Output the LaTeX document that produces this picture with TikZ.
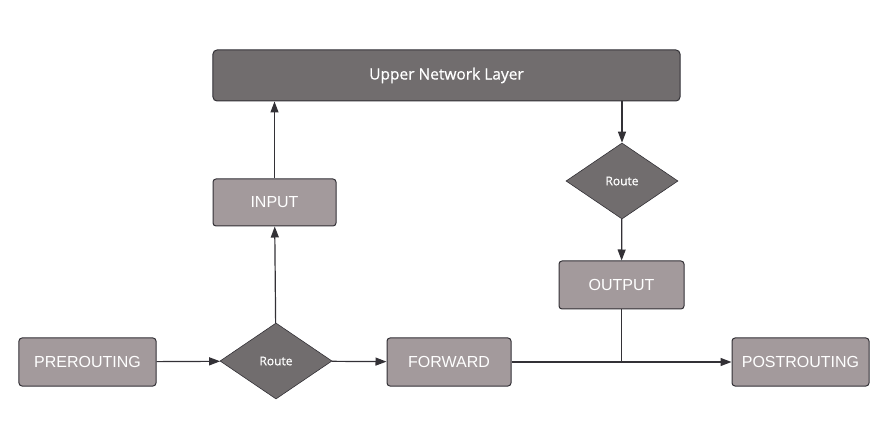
\documentclass[tikz,border=0pt]{standalone}
\usepackage{fontspec}
\setmainfont{Liberation Sans}
\newfontfamily\labelfont[FakeBold=0.7]{Open Sans}
\usetikzlibrary{shapes.geometric,arrows.meta}
\definecolor{darkfill}{HTML}{716D6E}
\definecolor{chainfill}{HTML}{A39A9C}
\definecolor{edgeline}{HTML}{333136}
\begin{document}
\begin{tikzpicture}
	[
	x=1bp, y=-1bp,
	chain/.style={rectangle, rounded corners=3bp, fill=chainfill, draw=edgeline, line width=1bp, text=white, inner sep=0pt, font=\fontsize{16bp}{18bp}\selectfont},
	layer/.style={rectangle, rounded corners=4bp, fill=darkfill, draw=edgeline, line width=1bp, text=white, inner sep=0pt, minimum width=467bp, minimum height=51bp, font=\labelfont\fontsize{15.5bp}{17bp}\selectfont},
	route/.style={diamond, fill=darkfill, draw=edgeline, line width=0.6bp, text=white, inner sep=0pt, minimum width=112bp, minimum height=76bp, font=\labelfont\fontsize{12bp}{14bp}\selectfont},
	flow/.style={-{Triangle[length=11bp,width=8bp]}, draw=edgeline, line width=1.2bp}
	]
		\useasboundingbox (0, 0) rectangle (895, 441);
		
		% top
		\node (upper) [layer] at (446.5, 75.5) {Upper Network Layer};
		
		% left branch
		\node (pre) [chain, minimum width=137bp, minimum height=48bp] at (87.5, 362) {PREROUTING};
		\node (rl) [route] at (276, 361) {Route};
		\node (input) [chain, minimum width=123bp, minimum height=47bp] at (274.5, 202.5) {INPUT};
		\node (fwd) [chain, minimum width=124bp, minimum height=48bp] at (449, 362) {FORWARD};
		
		% right branch
		\node (rr) [route] at (622, 181) {Route};
		\node (out) [chain, minimum width=125bp, minimum height=48bp] at (621.5, 285) {OUTPUT};
		\node (post) [chain, minimum width=137bp, minimum height=48bp] at (800.5, 362) {POSTROUTING};
		\coordinate (join) at (out |- fwd);
		
		% drawing code
		\draw [flow] (pre) -- (rl);
		\draw [flow] (rl) -- (fwd);
		\draw [flow] (rl) -- (input);
		\draw [flow] (input) -- (input |- upper.south);
		\draw [flow] (upper.south -| rr) -- (rr);
		\draw [flow] (rr) -- (out);
		\draw [draw=edgeline, line width=1.2bp] (out) -- (join);
		\draw [flow] (fwd) -- (post);
	\end{tikzpicture}
\end{document}
